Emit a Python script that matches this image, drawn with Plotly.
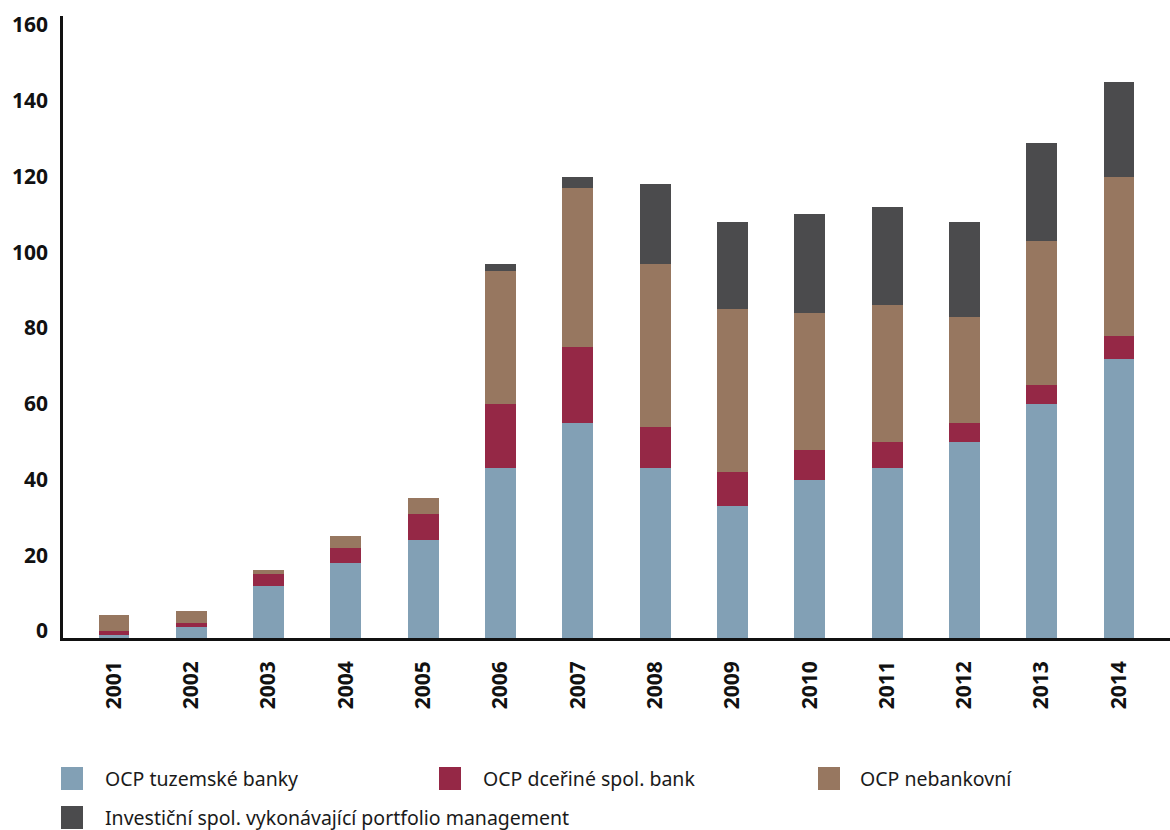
import plotly.graph_objects as go

# Years on the category axis
years = ["2001", "2002", "2003", "2004", "2005", "2006", "2007",
         "2008", "2009", "2010", "2011", "2012", "2013", "2014"]

# Stacked series values
ocp_tuzemske_banky = [0.8, 2.9, 13.7, 19.8, 25.9, 44.9, 56.8, 44.9, 34.9, 41.7, 44.9, 51.7, 61.8, 73.7]
ocp_dcerine_spol = [1.0, 1.1, 3.2, 4.0, 6.8, 16.9, 20.0, 10.8, 8.9, 7.9, 6.8, 5.1, 5.0, 6.1]
ocp_nebankovni = [4.2, 3.2, 1.1, 3.2, 4.2, 35.1, 42.0, 43.0, 43.1, 36.2, 36.2, 28.0, 38.0, 42.0]
investicni_spol = [0, 0, 0, 0, 0, 1.8, 2.9, 21.2, 22.9, 26.1, 25.9, 25.0, 25.9, 25.1]

series_names = [
    "OCP tuzemské banky",
    "OCP dceřiné spol. bank",
    "OCP nebankovní",
    "Investiční spol. vykonávající portfolio management",
]
series_values = [ocp_tuzemske_banky, ocp_dcerine_spol, ocp_nebankovni, investicni_spol]
colors = ["#82A0B5", "#952846", "#977760", "#4B4B4D"]

y_ticks = [0, 20, 40, 60, 80, 100, 120, 140, 160]

W, H = 1170, 830
L, R, T, B = 63, 0, 16, 192
PW, PH = W - L - R, H - T - B

fig = go.Figure()
for name, vals, col in zip(series_names, series_values, colors):
    fig.add_trace(go.Bar(
        x=years, y=vals, name=name, marker=dict(color=col, line=dict(width=0)),
        width=0.4, showlegend=False,
    ))

# Legend drawn as swatches + labels (pixel positions converted to paper coords)
def px_x(px):
    return (px - L) / PW

def px_y(py):
    return (T + PH - py) / PH

legend_items = [
    (61, 767, 103, series_names[0], colors[0]),
    (439, 767, 481, series_names[1], colors[1]),
    (818, 767, 858, series_names[2], colors[2]),
    (61, 806, 103, series_names[3], colors[3]),
]
shapes = []
annotations = []
for sx, sy, tx, label, col in legend_items:
    shapes.append(dict(
        type="rect", xref="paper", yref="paper",
        x0=px_x(sx), x1=px_x(sx + 22), y0=px_y(sy + 23), y1=px_y(sy),
        fillcolor=col, line=dict(width=0),
    ))
    annotations.append(dict(
        x=px_x(tx), y=px_y(sy + 11.5), xref="paper", yref="paper",
        text=label, showarrow=False, xanchor="left", yanchor="middle",
        font=dict(family="Noto Sans", size=19.5, color="#1a1a1a"),
    ))

fig.update_layout(
    width=W, height=H,
    margin=dict(l=L, r=R, t=T, b=B, autoexpand=False),
    barmode="stack",
    bargap=0.6,
    plot_bgcolor="white", paper_bgcolor="white",
    shapes=shapes, annotations=annotations,
    showlegend=False,
)
fig.update_xaxes(
    type="category", range=[-0.66, 13.66],
    showline=True, linecolor="#111111", linewidth=2.5,
    showgrid=False, ticks="", tickangle=-90,
    tickfont=dict(family="Noto Sans", size=21, color="#111111", weight="bold"),
    ticklabelstandoff=12,
)
fig.update_yaxes(
    range=[0, 164.2], tickvals=y_ticks, ticktext=[str(v) for v in y_ticks],
    showline=True, linecolor="#111111", linewidth=2.5,
    showgrid=False, zeroline=False, ticks="",
    tickfont=dict(family="Noto Sans", size=21, color="#111111", weight="bold"),
    ticklabelshift=-7, ticklabelstandoff=8,
)

fig.write_html("out.html")
